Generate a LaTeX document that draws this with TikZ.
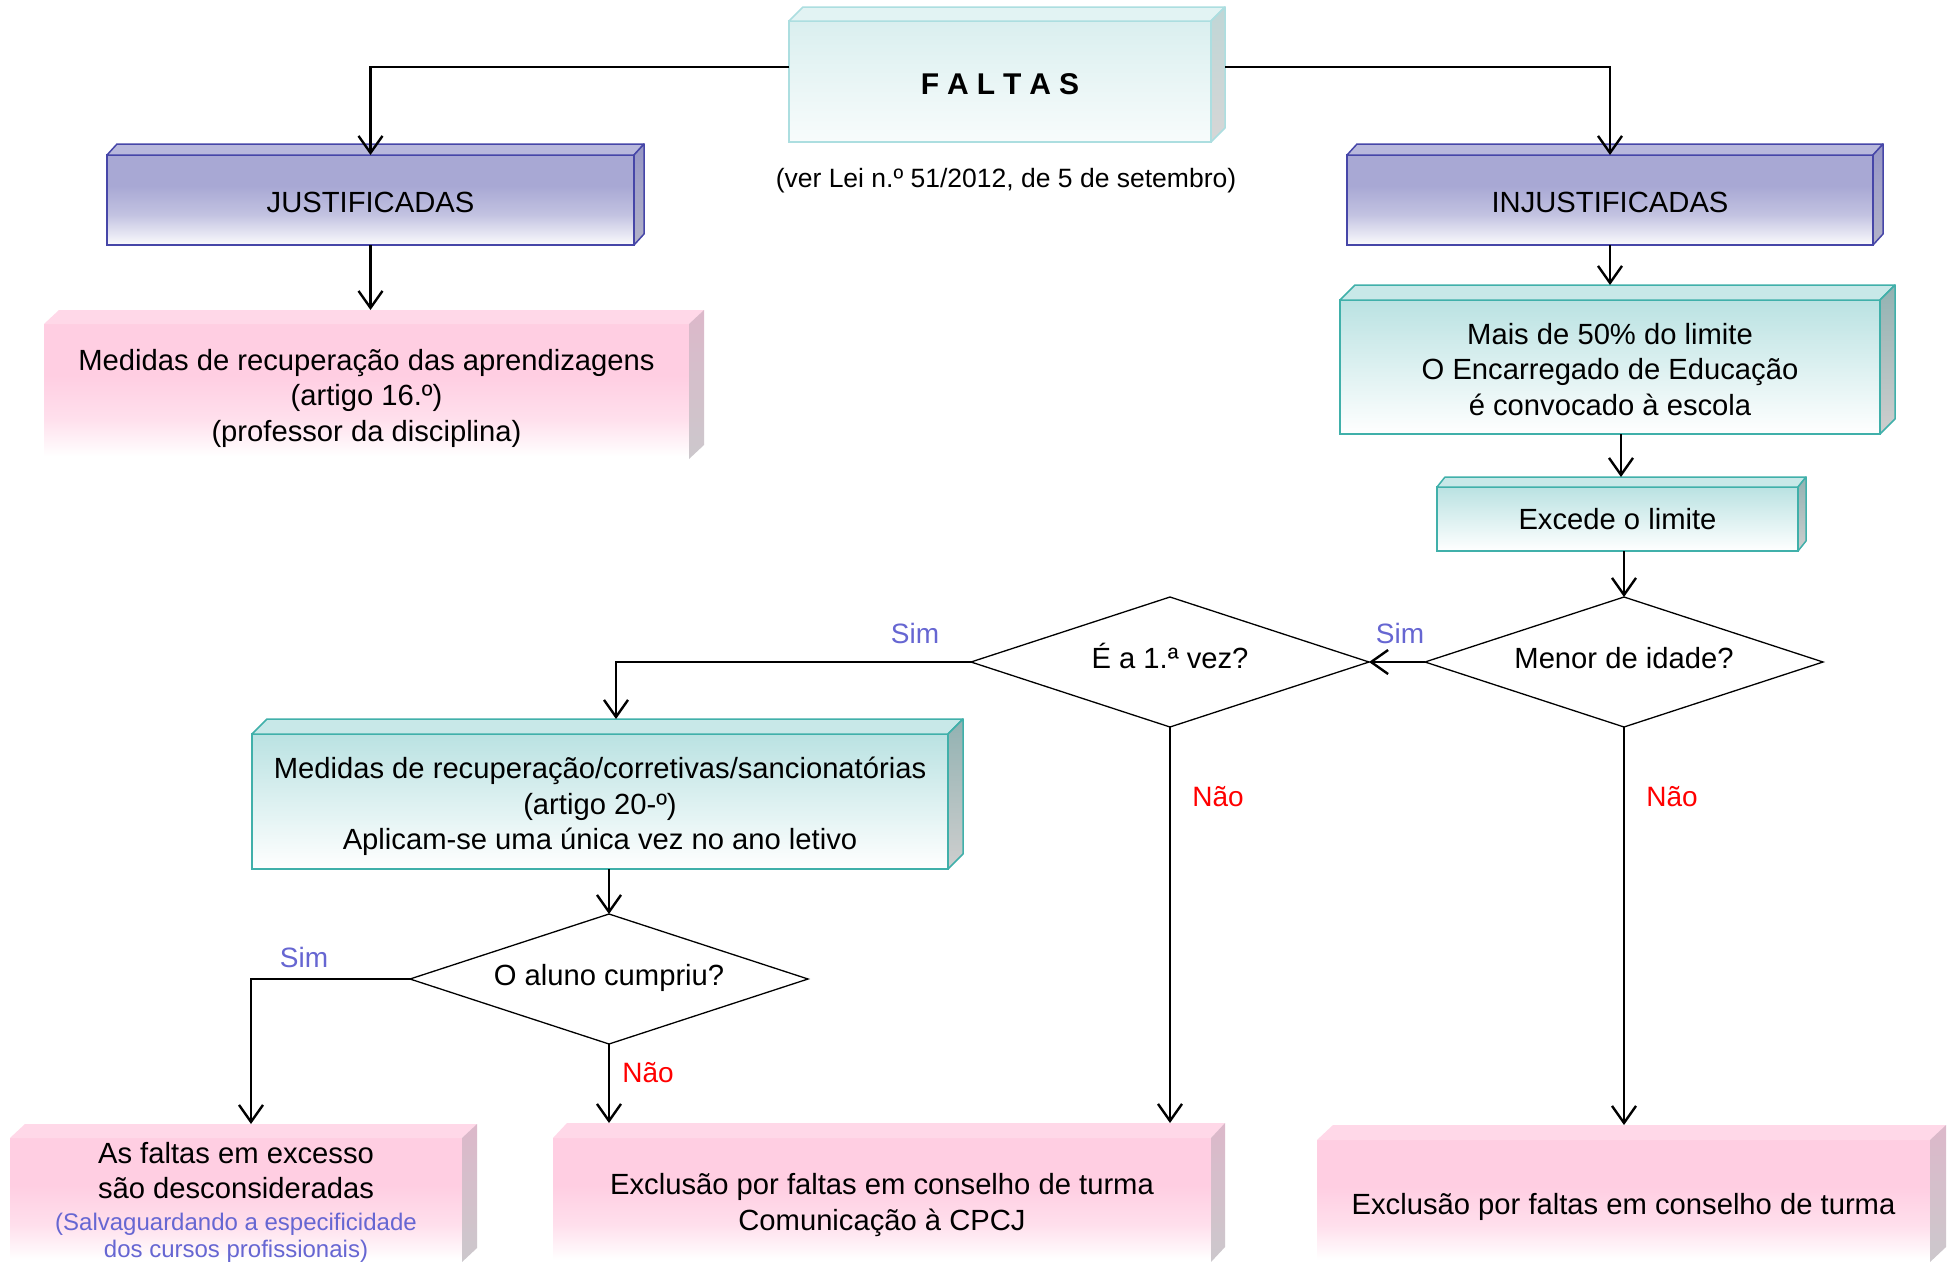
\documentclass[tikz,border=0pt]{standalone}
\usepackage{fontspec}
\setmainfont{Liberation Sans}
\usetikzlibrary{arrows.meta,shapes.geometric,calc}

\definecolor{tealA}{RGB}{186,226,226}
\definecolor{tealB}{RGB}{64,176,170}
\definecolor{tealTop}{RGB}{200,232,232}
\definecolor{tealSideA}{RGB}{146,178,178}
\definecolor{tealSideB}{RGB}{206,206,206}
\definecolor{falA}{RGB}{218,239,239}
\definecolor{falB}{RGB}{172,222,224}
\definecolor{falTop}{RGB}{226,243,243}
\definecolor{falSideA}{RGB}{192,214,214}
\definecolor{falSideB}{RGB}{214,214,214}
\definecolor{purpA}{RGB}{168,168,212}
\definecolor{purpB}{RGB}{70,70,168}
\definecolor{purpTop}{RGB}{184,184,220}
\definecolor{purpSideA}{RGB}{150,150,198}
\definecolor{purpSideB}{RGB}{178,178,200}
\definecolor{pinkA}{RGB}{255,206,226}
\definecolor{pinkTop}{RGB}{255,216,232}
\definecolor{pinkSideA}{RGB}{220,184,202}
\definecolor{pinkSideB}{RGB}{204,200,204}
\definecolor{simblue}{RGB}{102,102,210}
\definecolor{naored}{RGB}{255,0,0}

\pgfdeclareverticalshading{pinkfront}{100bp}{color(0bp)=(white); color(26bp)=(white); color(40bp)=(pinkA!65!white); color(56bp)=(pinkA); color(100bp)=(pinkA)}
\pgfdeclareverticalshading{purpfront}{100bp}{color(0bp)=(white); color(25bp)=(purpA!5!white); color(42bp)=(purpA!70!white); color(58bp)=(purpA); color(100bp)=(purpA)}

\newcommand\mainsize{\fontsize{29.2}{35.5}\selectfont}
\newcommand\subsize{\fontsize{26.5}{32}\selectfont}
\newcommand\labsize{\fontsize{28}{32}\selectfont}
\newcommand\smallsize{\fontsize{24}{28}\selectfont}

% faces of a 3D box: node, dx, dy, top face options, side face options
\newcommand\boxfaces[5]{%
  \path[#4] (#1.north west) -- ([shift={(#2pt,#3pt)}]#1.north west) -- ([shift={(#2pt,#3pt)}]#1.north east) -- (#1.north east) -- cycle;
  \path[#5] (#1.north east) -- ([shift={(#2pt,#3pt)}]#1.north east) -- ([shift={(#2pt,#3pt)}]#1.south east) -- (#1.south east) -- cycle;
  \coordinate (#1-top) at ([yshift=#3pt]#1.north);
}

\begin{document}
\begin{tikzpicture}[x=1pt,y=-1pt,
  boxbase/.style={inner sep=0pt, outer sep=0pt},
  boxtext/.style={inner sep=0pt, outer sep=0pt, align=center, font=\mainsize},
  faltasbox/.style={boxbase, draw=falB, line width=1.5pt, top color=falA, bottom color=falA!20!white},
  purpbox/.style={boxbase, draw=purpB, line width=1.5pt, shading=purpfront},
  tealbox/.style={boxbase, draw=tealB, line width=1.5pt, top color=tealA, bottom color=white},
  pinkbox/.style={boxbase, shading=pinkfront},
  faltastop/.style={fill=falTop, draw=falB, line width=1.5pt, line join=round},
  faltasside/.style={top color=falSideA, bottom color=falSideB, draw=falB, line width=1.5pt, line join=round},
  purptop/.style={fill=purpTop, draw=purpB, line width=1.5pt, line join=round},
  purpside/.style={top color=purpSideA, bottom color=purpSideB, draw=purpB, line width=1.5pt, line join=round},
  tealtop/.style={fill=tealTop, draw=tealB, line width=1.5pt, line join=round},
  tealside/.style={top color=tealSideA, bottom color=tealSideB, draw=tealB, line width=1.5pt, line join=round},
  pinktop/.style={fill=pinkTop},
  pinkside/.style={top color=pinkSideA, bottom color=pinkSideB},
  decision/.style={diamond, draw=black, line width=1.3pt, fill=white, inner sep=0pt, outer sep=0pt,
    minimum width=398pt, minimum height=130pt, aspect=3.06, font=\mainsize,
    text height=18pt, text depth=6pt},
  arr/.style={line width=2.4pt, -{Straight Barb[length=17pt,width=24pt]}},
  simlabel/.style={text=simblue, font=\labsize, inner sep=0pt},
  naolabel/.style={text=naored, font=\labsize, inner sep=0pt}
]
\useasboundingbox (0,0) rectangle (1954,1261);
\clip (0,0) rectangle (1954,1261);
\fill[white] (0,0) rectangle (1954,1261);

% ---------- boxes ----------
\node[faltasbox, minimum width=422pt, minimum height=121pt] (faltas) at (1000,81.5) {};
\boxfaces{faltas}{14}{14}{faltastop}{faltasside}
\node[boxtext] (faltas-t) at (1000,84) {\fontsize{30}{36}\selectfont\bfseries F\kern8pt A\kern8pt L\kern8pt T\kern8pt A\kern8pt S};
\node[font=\subsize, inner sep=0pt] (lei) at (1006,180.5) {(ver Lei n.º 51/2012, de 5 de setembro)};

\node[purpbox, minimum width=527pt, minimum height=90pt] (just) at (370.5,200) {};
\boxfaces{just}{10}{11}{purptop}{purpside}
\node[boxtext] (just-t) at (370.5,202.5) {JUSTIFICADAS};
\node[purpbox, minimum width=526pt, minimum height=90pt] (injust) at (1610,200) {};
\boxfaces{injust}{10}{11}{purptop}{purpside}
\node[boxtext] (injust-t) at (1610,202.5) {INJUSTIFICADAS};

\node[pinkbox, minimum width=645pt, minimum height=135pt] (med1) at (366.5,391.5) {};
\boxfaces{med1}{15}{14}{pinktop}{pinkside}
\node[boxtext] (med1-t) at (366.5,398) {Medidas de recuperação das aprendizagens\\(artigo 16.º)\\(professor da disciplina)};

\node[tealbox, minimum width=540pt, minimum height=134pt] (mais) at (1610,367) {};
\boxfaces{mais}{15}{15}{tealtop}{tealside}
\node[boxtext] (mais-t) at (1610,369.5) {Mais de 50\% do limite\\O Encarregado de Educação\\é convocado à escola};

\node[tealbox, minimum width=361pt, minimum height=64pt] (excede) at (1617.5,519) {};
\boxfaces{excede}{8}{10}{tealtop}{tealside}
\node[boxtext] (excede-t) at (1617.5,519) {Excede o limite};

\node[decision] (menor) at (1624,662) {Menor de idade?};
\node[decision] (vez) at (1170,662) {É a 1.ª vez?};

\node[tealbox, minimum width=696pt, minimum height=135pt] (med2) at (600,801.5) {};
\boxfaces{med2}{15}{15}{tealtop}{tealside}
\node[boxtext] (med2-t) at (600,806.5) {Medidas de recuperação/corretivas/sancionatórias\\(artigo 20-º)\\Aplicam-se uma única vez no ano letivo};

\node[decision] (aluno) at (609,979) {O aluno cumpriu?};

\node[pinkbox, minimum width=452pt, minimum height=124pt] (b1) at (236,1200) {};
\boxfaces{b1}{15}{14}{pinktop}{pinkside}
\node[boxtext] (b1-t) at (236,1202)
  {As faltas em excesso\\são desconsideradas\\[-4pt]{\smallsize\color{simblue}(Salvaguardando a especificidade}\\[-8.5pt]{\smallsize\color{simblue}dos cursos profissionais)}};

\node[pinkbox, minimum width=658pt, minimum height=124pt] (b2) at (882,1200) {};
\boxfaces{b2}{14}{15}{pinktop}{pinkside}
\node[boxtext] (b2-t) at (882,1205) {Exclusão por faltas em conselho de turma\\Comunicação à CPCJ};

\node[pinkbox, minimum width=613pt, minimum height=122pt] (b3) at (1623.5,1201) {};
\boxfaces{b3}{16}{15}{pinktop}{pinkside}
\node[boxtext] (b3-t) at (1623.5,1207) {Exclusão por faltas em conselho de turma};

% ---------- connectors ----------
\draw[arr] ([yshift=14.5pt]faltas.west) -| (just.north);
\draw[arr] ([shift={(14pt,14.5pt)}]faltas.east) -| (injust.north);
\draw[arr] (just.south) -- (just.south |- med1-top);
\draw[arr] (injust.south) -- (injust.south |- mais-top);
\draw[arr] ([xshift=3.5pt]excede-top |- mais.south) -- ([xshift=3.5pt]excede-top);
\draw[arr] (menor.north |- excede.south) -- (menor.north);
\draw[arr] (menor.west) -- (vez.east);
\draw[arr] (vez.west) -| ([xshift=16pt]med2-top);
\draw[arr] (vez.south) -- (vez.south |- b2-top);
\draw[arr] (menor.south) -- (menor.south |- b3-top);
\draw[arr] (aluno.north |- med2.south) -- (aluno.north);
\draw[arr] (aluno.west) -| ([xshift=15pt]b1-top);
\draw[arr] (aluno.south) -- (aluno.south |- b2-top);

% ---------- labels ----------
\node[simlabel] (sim1) at (915,633) {Sim};
\node[simlabel] (sim2) at (1400,633) {Sim};
\node[simlabel] (sim3) at (304,957) {Sim};
\node[naolabel] (nao1) at (1218,797) {Não};
\node[naolabel] (nao2) at (1672,797) {Não};
\node[naolabel] (nao3) at (648,1073) {Não};
\end{tikzpicture}
\end{document}
